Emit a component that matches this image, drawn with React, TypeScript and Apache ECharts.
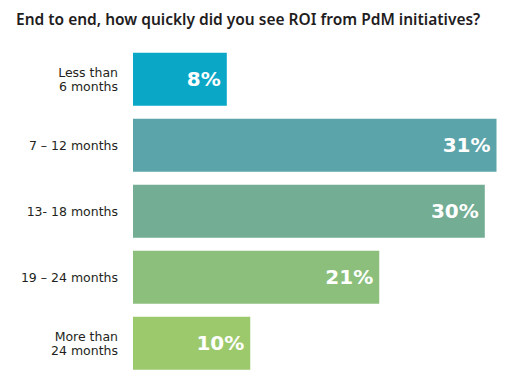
import React, { useEffect, useRef } from "react";
import * as echarts from "echarts";

const categories = [
  "Less than\n6 months",
  "7 – 12 months",
  "13- 18 months",
  "19 – 24 months",
  "More than\n24 months",
];
const values = [8, 31, 30, 21, 10];
const colors = ["#0ba7c7", "#5ba4aa", "#72ad94", "#8bbf7b", "#9cc96b"];
const title = "End to end, how quickly did you see ROI from PdM initiatives?";

export default function App() {
  const ref = useRef<HTMLDivElement>(null);
  useEffect(() => {
    if (!ref.current) return;
    const chart = echarts.init(ref.current, undefined, { renderer: "svg" });
    chart.setOption({
      animation: false,
      title: {
        text: title,
        left: 11,
        top: 6,
        textStyle: {
          fontFamily: "Noto Sans",
          fontSize: 15.5,
          fontWeight: 600,
          color: "#1f1d1e",
        },
      },
      grid: { left: 133, width: 363.5, top: 46.3, height: 330, containLabel: false },
      xAxis: {
        type: "value",
        min: 0,
        max: 31,
        show: false,
      },
      yAxis: {
        type: "category",
        inverse: true,
        data: categories,
        axisLine: { show: false },
        axisTick: { show: false },
        axisLabel: {
          margin: 15,
          fontFamily: "DejaVu Sans",
          fontSize: 12.5,
          lineHeight: 13.5,
          color: "#231f20",
          align: "right",
        },
      },
      series: [
        {
          type: "bar",
          barWidth: 53,
          data: values.map((v, i) => ({ value: v, itemStyle: { color: colors[i] } })),
          label: {
            show: true,
            position: "insideRight",
            distance: 6,
            formatter: "{c}%",
            color: "#ffffff",
            fontFamily: "DejaVu Sans",
            fontWeight: "bold",
            fontSize: 20,
          },
        },
      ],
    });
    return () => chart.dispose();
  }, []);
  return (
    <div
      ref={ref}
      style={{ position: "fixed", left: 0, top: 0, width: 528, height: 388, background: "#fff" }}
    />
  );
}
